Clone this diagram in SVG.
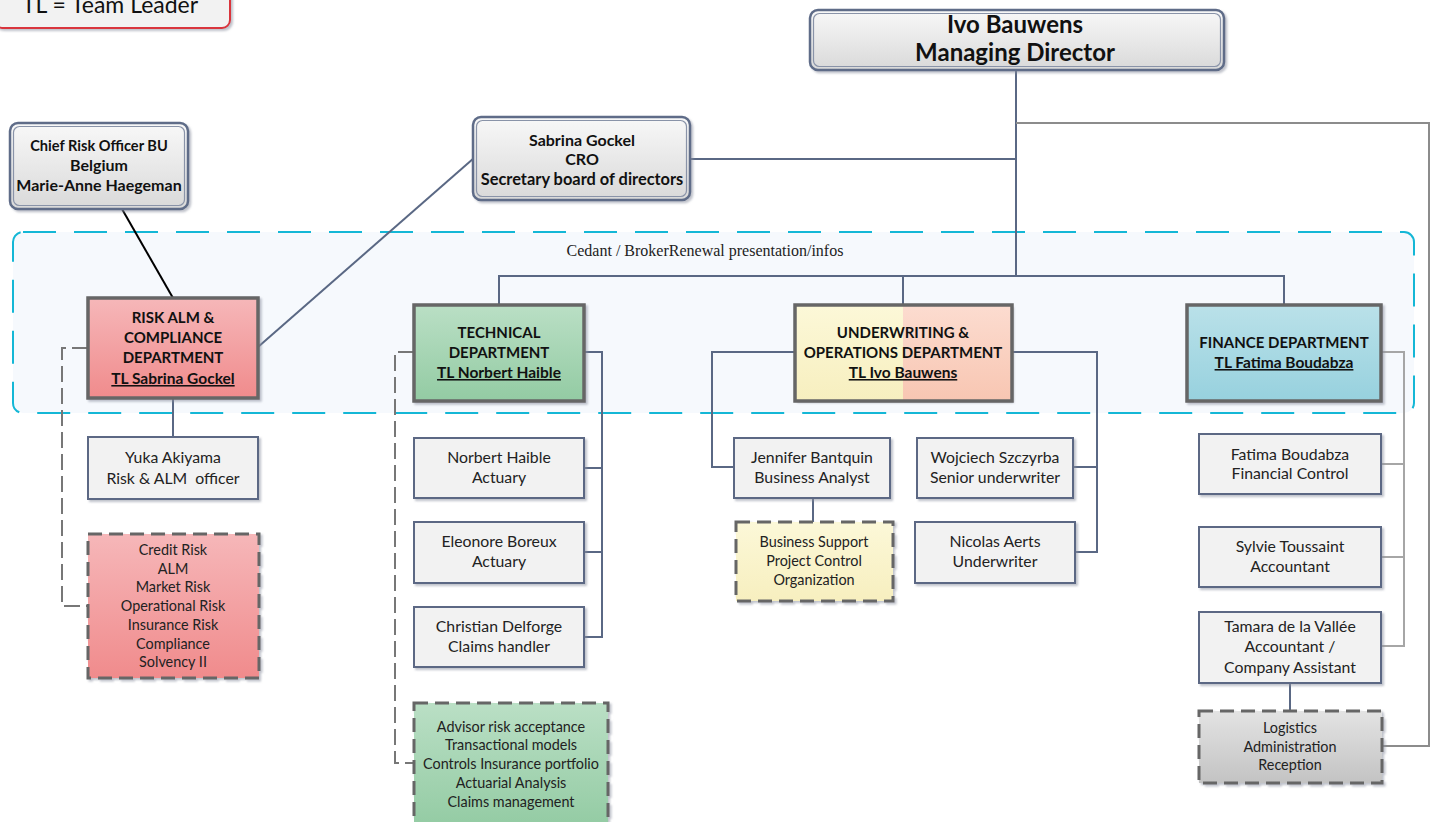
<svg xmlns="http://www.w3.org/2000/svg" width="1437" height="822" viewBox="0 0 1437 822">
<defs>
<filter id="sh" x="-10%" y="-10%" width="130%" height="130%"><feDropShadow dx="2" dy="2" stdDeviation="1" flood-color="#8a90a0" flood-opacity="0.55"/></filter>
<linearGradient id="gPink" x1="0" y1="0" x2="0" y2="1"><stop offset="0" stop-color="#f6b7b9"/><stop offset="1" stop-color="#f08b8c"/></linearGradient>
<linearGradient id="gGreen" x1="0" y1="0" x2="0" y2="1"><stop offset="0" stop-color="#badfc5"/><stop offset="1" stop-color="#93cba3"/></linearGradient>
<linearGradient id="gYel" x1="0" y1="0" x2="0" y2="1"><stop offset="0" stop-color="#fcf8d8"/><stop offset="1" stop-color="#f7efbf"/></linearGradient>
<linearGradient id="gPeach" x1="0" y1="0" x2="0" y2="1"><stop offset="0" stop-color="#fcdcd0"/><stop offset="1" stop-color="#f8c6b2"/></linearGradient>
<linearGradient id="gBlue" x1="0" y1="0" x2="0" y2="1"><stop offset="0" stop-color="#bae1e9"/><stop offset="1" stop-color="#97d1de"/></linearGradient>
<linearGradient id="gGray" x1="0" y1="0" x2="0" y2="1"><stop offset="0" stop-color="#e3e3e3"/><stop offset="1" stop-color="#c3c3c3"/></linearGradient>
<linearGradient id="gBtn" x1="0" y1="0" x2="0" y2="1"><stop offset="0" stop-color="#f8f8f8"/><stop offset="1" stop-color="#d9d9d9"/></linearGradient>
<style>
.t{font-family:Lato,"Liberation Sans",sans-serif;text-anchor:middle;fill:#111}
.b{font-weight:bold;font-size:15px}
.r{font-size:15.8px;fill:#222}
.s{font-size:14.4px;fill:#222}
.u{text-decoration:underline}
.box{fill:#f2f2f2;stroke:#5b6884;stroke-width:2;filter:url(#sh)}
.dept{stroke:#666;stroke-width:3.5;filter:url(#sh)}
.dash{stroke:#666;stroke-width:3;stroke-dasharray:14 7;filter:url(#sh)}
.dbl{fill:url(#gBtn);stroke:#5e6c88;stroke-width:2.5;filter:url(#sh)}
.dbli{fill:none;stroke:#8993a8;stroke-width:1.2}
.ln{fill:none;stroke:#5a6884;stroke-width:2}
.lg{fill:none;stroke:#a6a6a6;stroke-width:2}
.ld{fill:none;stroke:#777;stroke-width:2;stroke-dasharray:16 6}
</style>
</defs>
<rect width="1437" height="822" fill="#fff"/>

<!-- container -->
<g id="container">
<rect x="13" y="232" width="1401" height="181" rx="10" fill="#f6f9fd" stroke="#14b7d6" stroke-width="2" stroke-dasharray="33 18"/>
<text x="705" y="256" font-family="Liberation Serif,serif" font-size="16" text-anchor="middle" fill="#222">Cedant / BrokerRenewal presentation/infos</text>
</g>

<g id="connectors">
<path class="ln" d="M1016,70 V276"/>
<path class="ln" d="M499,305 V276 H1284 V305 M903,276 V305"/>
<path class="ln" d="M690,159 H1016"/>
<path fill="none" stroke="#8c8c8c" stroke-width="2" d="M1016,123 H1429 V746 H1382"/>
<path fill="none" stroke="#000" stroke-width="2" d="M122,209 L173,298"/>
<path class="ln" stroke-width="1.6" d="M474,158 L258,347"/>
<path class="ln" d="M173,398 V437"/>
<path class="ld" d="M88,348 H62 V606 H88"/>
<path class="ld" d="M414,352 H395 V763 H414"/>
<path class="ln" d="M584,352 H602 V637 H584 M602,468 H584 M602,552 H584"/>
<path class="ln" d="M795,352 H712 V467 H734"/>
<path class="ln" d="M1012,352 H1097 V552 H1075 M1097,467 H1073"/>
<path class="ln" d="M813,498 V522"/>
<path class="lg" d="M1381,352 H1404 V646 H1381 M1404,557 H1381"/>
<path class="lg" d="M1404,464 H1381"/>
<path class="ln" d="M1290,683 V711"/>
</g>

<g id="legend">
<rect x="-6" y="-30" width="236" height="58" rx="8" fill="#f2f2f2" stroke="#d9343c" stroke-width="2" filter="url(#sh)"/>
<text class="t" x="110" y="13" font-size="23" fill="#222">TL = Team Leader</text>
</g>

<g id="ivo">
<rect class="dbl" x="810" y="10" width="414" height="60" rx="8"/>
<rect class="dbli" x="813.5" y="13.5" width="407" height="53" rx="6"/>
<text class="t" x="1015" y="33" font-size="24" font-weight="bold">Ivo Bauwens</text>
<text class="t" x="1015" y="61" font-size="24" font-weight="bold">Managing Director</text>
</g>

<g id="cro-bu">
<rect class="dbl" x="10" y="123" width="178" height="86" rx="8"/>
<rect class="dbli" x="13.5" y="126.5" width="171" height="79" rx="6"/>
<text class="t b" x="99" y="151" font-size="14.6" style="font-size:14.6px">Chief Risk Officer BU</text>
<text class="t b" x="99" y="171" style="font-size:16px">Belgium</text>
<text class="t b" x="99" y="191" style="font-size:16px">Marie-Anne Haegeman</text>
</g>

<g id="sabrina">
<rect class="dbl" x="473" y="117" width="217" height="83" rx="8"/>
<rect class="dbli" x="476.5" y="120.5" width="210" height="76" rx="6"/>
<text class="t b" x="582" y="146" style="font-size:16px">Sabrina Gockel</text>
<text class="t b" x="582" y="165" style="font-size:16px">CRO</text>
<text class="t b" x="582" y="185" style="font-size:16.4px">Secretary board of directors</text>
</g>

<g id="risk-dept">
<rect class="dept" x="88" y="298" width="170" height="100" fill="url(#gPink)"/>
<text class="t b" x="173" y="323">RISK ALM &amp;</text>
<text class="t b" x="173" y="343">COMPLIANCE</text>
<text class="t b" x="173" y="363">DEPARTMENT</text>
<text class="t b u" x="173" y="384" style="font-size:15.5px">TL Sabrina Gockel</text>
</g>

<g id="tech-dept">
<rect class="dept" x="414" y="305" width="170" height="96" fill="url(#gGreen)"/>
<text class="t b" x="499" y="338">TECHNICAL</text>
<text class="t b" x="499" y="358">DEPARTMENT</text>
<text class="t b u" x="499" y="378" style="font-size:15.5px">TL Norbert Haible</text>
</g>

<g id="uw-dept">
<rect x="795" y="305" width="217" height="96" fill="#fff" filter="url(#sh)"/>
<rect x="795" y="305" width="108" height="96" fill="url(#gYel)"/>
<rect x="903" y="305" width="109" height="96" fill="url(#gPeach)"/>
<rect x="795" y="305" width="217" height="96" fill="none" stroke="#666" stroke-width="3.5"/>
<text class="t b" x="903" y="338">UNDERWRITING &amp;</text>
<text class="t b" x="903" y="358">OPERATIONS DEPARTMENT</text>
<text class="t b u" x="903" y="378" style="font-size:15.5px">TL Ivo Bauwens</text>
</g>

<g id="fin-dept">
<rect class="dept" x="1187" y="305" width="194" height="96" fill="url(#gBlue)"/>
<text class="t b" x="1284" y="348">FINANCE DEPARTMENT</text>
<text class="t b u" x="1284" y="368" style="font-size:15.5px">TL Fatima Boudabza</text>
</g>

<g id="yuka">
<rect class="box" x="88" y="437" width="170" height="62"/>
<text class="t r" x="173" y="463">Yuka Akiyama</text>
<text class="t r" x="173" y="484" xml:space="preserve">Risk &amp; ALM  officer</text>
</g>

<g id="risk-areas">
<rect class="dash" x="88" y="534" width="171" height="144" fill="url(#gPink)"/>
<text class="t s" x="173" y="555">Credit Risk</text>
<text class="t s" x="173" y="574">ALM</text>
<text class="t s" x="173" y="592">Market Risk</text>
<text class="t s" x="173" y="611">Operational Risk</text>
<text class="t s" x="173" y="630">Insurance Risk</text>
<text class="t s" x="173" y="649">Compliance</text>
<text class="t s" x="173" y="667">Solvency II</text>
</g>

<g id="norbert">
<rect class="box" x="414" y="438" width="170" height="60"/>
<text class="t r" x="499" y="463">Norbert Haible</text>
<text class="t r" x="499" y="483">Actuary</text>
</g>
<g id="eleonore">
<rect class="box" x="414" y="522" width="170" height="61"/>
<text class="t r" x="499" y="547">Eleonore Boreux</text>
<text class="t r" x="499" y="567">Actuary</text>
</g>
<g id="christian">
<rect class="box" x="414" y="607" width="170" height="60"/>
<text class="t r" x="499" y="632">Christian Delforge</text>
<text class="t r" x="499" y="652">Claims handler</text>
</g>

<g id="tech-areas">
<rect class="dash" x="414" y="703" width="194" height="125" fill="url(#gGreen)"/>
<text class="t s" x="511" y="732">Advisor risk acceptance</text>
<text class="t s" x="511" y="750">Transactional models</text>
<text class="t s" x="511" y="769">Controls Insurance portfolio</text>
<text class="t s" x="511" y="788">Actuarial Analysis</text>
<text class="t s" x="511" y="807">Claims management</text>
</g>

<g id="jennifer">
<rect class="box" x="734" y="438" width="156" height="60"/>
<text class="t r" x="812" y="463">Jennifer Bantquin</text>
<text class="t r" x="812" y="483">Business Analyst</text>
</g>
<g id="business-support">
<rect class="dash" x="736" y="522" width="157" height="79" fill="url(#gYel)"/>
<text class="t s" x="814" y="547">Business Support</text>
<text class="t s" x="814" y="566">Project Control</text>
<text class="t s" x="814" y="585">Organization</text>
</g>
<g id="wojciech">
<rect class="box" x="917" y="438" width="156" height="60"/>
<text class="t r" x="995" y="463">Wojciech Szczyrba</text>
<text class="t r" x="995" y="483">Senior underwriter</text>
</g>
<g id="nicolas">
<rect class="box" x="915" y="522" width="160" height="61"/>
<text class="t r" x="995" y="547">Nicolas Aerts</text>
<text class="t r" x="995" y="567">Underwriter</text>
</g>

<g id="fatima">
<rect class="box" x="1199" y="434" width="182" height="60"/>
<text class="t r" x="1290" y="460">Fatima Boudabza</text>
<text class="t r" x="1290" y="479">Financial Control</text>
</g>
<g id="sylvie">
<rect class="box" x="1199" y="527" width="182" height="60"/>
<text class="t r" x="1290" y="552">Sylvie Toussaint</text>
<text class="t r" x="1290" y="572">Accountant</text>
</g>
<g id="tamara">
<rect class="box" x="1199" y="612" width="182" height="71"/>
<text class="t r" x="1290" y="632">Tamara de la Vallée</text>
<text class="t r" x="1290" y="652">Accountant /</text>
<text class="t r" x="1290" y="673">Company Assistant</text>
</g>
<g id="logistics">
<rect class="dash" x="1199" y="711" width="183" height="72" fill="url(#gGray)"/>
<text class="t s" x="1290" y="733">Logistics</text>
<text class="t s" x="1290" y="752">Administration</text>
<text class="t s" x="1290" y="770">Reception</text>
</g>
</svg>
